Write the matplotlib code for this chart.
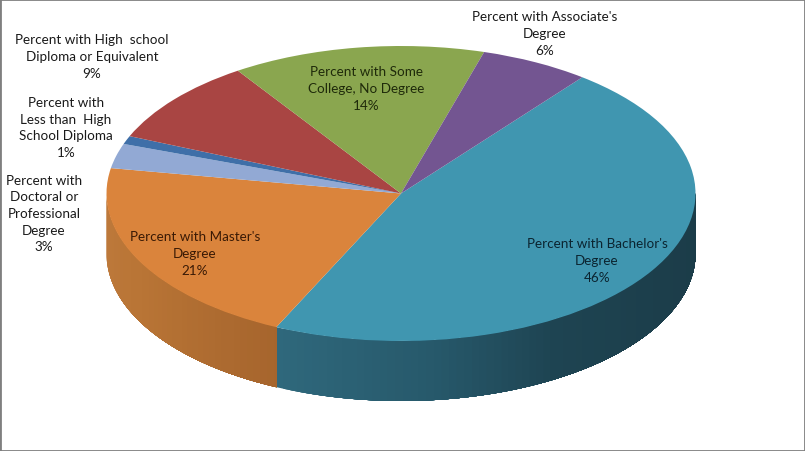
"""
3D looking pie of highest education level, drawn from a plain pie squashed into an ellipse
"""

import numpy as np
import matplotlib
matplotlib.use("Agg")
import matplotlib.pyplot as plt
from matplotlib.colors import to_rgb

labels = ["Percent with Bachelor's\nDegree",
          "Percent with Master's\nDegree",
          "Percent with\nDoctoral or\nProfessional\nDegree",
          "Percent with\nLess than  High\nSchool Diploma",
          "Percent with High  school\nDiploma or Equivalent",
          "Percent with Some\nCollege, No Degree",
          "Percent with Associate's\nDegree"]
# slice sizes, the labels show them rounded
percents = [46.4, 20.8, 2.7, 0.9, 9.3, 13.9, 6.0]

colors = ["#4096B0", "#DA843C", "#92A9D4", "#3F6FA8", "#A94543", "#8AA64F", "#735591"]

# pixel geometry of the pie in the 805x452 picture
W, H = 805, 452
CX, CY = 401, 194.5
RX, RY = 294.5, 147.5
DEPTH = 60 / RY

def px(x, y):
    """Convert picture pixels to data units of the pie"""
    return (x - CX) / RX, (CY - y) / RY

def wallColor(theta, i):
    """Side wall shade, theta in degrees, -180 on the left to 0 on the right"""
    if i == 0:
        stops = ([-115, -85, -60, -30, 0], ["#2F687C", "#27596B", "#1E4452", "#1C3E4B", "#1B3C48"])
    elif i == 1:
        stops = ([-180, -150, -115], ["#BE7A3C", "#B87435", "#A6652D"])
    else:
        return to_rgb(colors[i])
    rgb = np.array([to_rgb(c) for c in stops[1]])
    return tuple(np.interp(theta, stops[0], rgb[:, k]) for k in range(3))

def drawWall(ax, start_angle):
    """Front wall of the cylinder. Each strip runs on to the slice end and the next one
    paints over it, that way no seams show between the strips."""
    edges = start_angle - np.cumsum([0] + percents) * 360 / sum(percents)
    for i in range(len(percents)):
        hi = min(edges[i], 0)
        lo = max(edges[i + 1], -180)
        if hi <= lo:
            continue
        for a in np.arange(lo, hi, 1.5):
            t = np.radians(np.linspace(a, hi, 60))
            x = np.cos(t)
            y = np.sin(t)
            c = wallColor(a, i)
            ax.fill(np.r_[x, x[::-1]], np.r_[y, y[::-1] - DEPTH], color=c, lw=0, zorder=1)

fig = plt.figure(figsize=(W / 100, H / 100), dpi=100, facecolor="white")
ax = fig.add_axes([0, 0, 1, 1])

start = 52
drawWall(ax, start)
wedges, _ = ax.pie(percents, colors=colors, startangle=start, counterclock=False, radius=1.0,
                   wedgeprops={"linewidth": 0, "zorder": 2})

ax.set_aspect("auto")
ax.set_xlim(px(0, 0)[0], px(W, 0)[0])
ax.set_ylim(px(0, H)[1], px(0, 0)[1])
ax.axis("off")

# label centres in picture pixels, same order as labels
label_pos = [(597, 261), (195, 254), (44, 214), (66, 128), (92, 57), (366, 89), (545, 34)]
label_col = ["#0B2430", "#3A1A05", "#1A1A1A", "#1A1A1A", "#1A1A1A", "#1F2A0A", "#1A1A1A"]
for i in range(len(labels)):
    x, y = px(*label_pos[i])
    ax.text(x, y, "%s\n%d%%" % (labels[i], round(percents[i])), ha="center", va="center", family="Lato",
            fontsize=9.7, linespacing=1.47, color=label_col[i], zorder=5)

# thin grey chart frame
fig.add_artist(plt.Rectangle((0, 0), 1, 1, transform=fig.transFigure, fill=False, ec="#7F7F7F", lw=2))

fig.savefig("out.png", dpi=100)
